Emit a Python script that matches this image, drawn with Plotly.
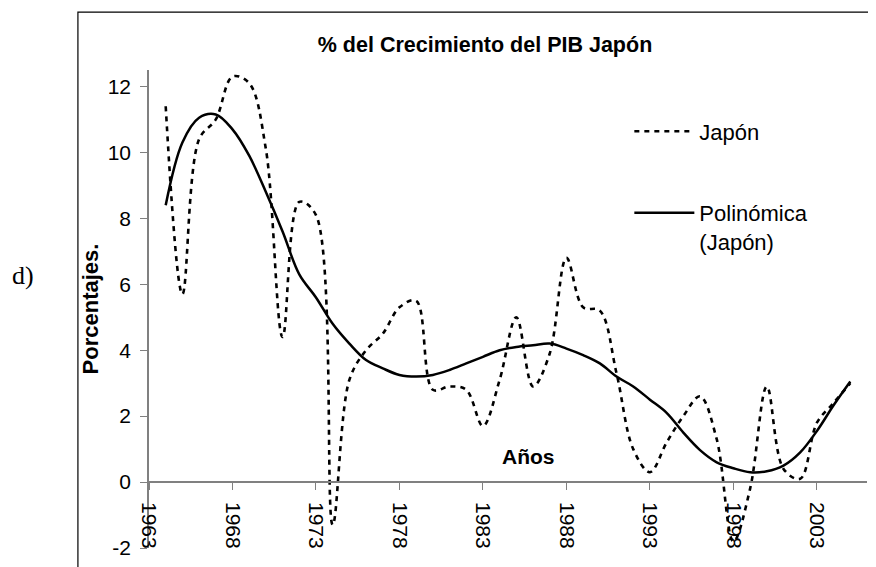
import plotly.graph_objects as go

# Years and values
years = list(range(1964, 2006))
japon = [11.4, 5.7, 10.4, 11.0, 12.3, 12.1, 10.1, 4.4, 8.5, 8.1,
         -1.3, 3.1, 4.0, 4.5, 5.3, 5.5, 2.8, 2.9, 2.8, 1.7,
         3.1, 5.0, 2.9, 3.9, 6.8, 5.3, 5.2, 3.3, 1.0, 0.3,
         1.2, 2.0, 2.6, 1.3, -1.8, -0.2, 2.9, 0.4, 0.1, 1.8,
         2.4, 3.0]
polinomica = [8.4, 10.3, 11.05, 11.15, 10.7, 9.9, 8.8, 7.6, 6.3, 5.6,
              4.8, 4.2, 3.7, 3.45, 3.25, 3.2, 3.25, 3.4, 3.6, 3.8,
              4.0, 4.1, 4.15, 4.2, 4.05, 3.85, 3.6, 3.2, 2.9, 2.5,
              2.1, 1.5, 0.97, 0.6, 0.42, 0.3, 0.33, 0.5, 0.9, 1.55,
              2.33, 3.05]
x_ticks = [1963, 1968, 1973, 1978, 1983, 1988, 1993, 1998, 2003]
y_ticks = [-2, 0, 2, 4, 6, 8, 10, 12]
y_tick_text = ["-2", "0", "2", "4", "6", "8", "10", "12"]

Y_MIN, Y_MAX = -2, 12.5
FONT = "Liberation Sans, Arial, sans-serif"
AXIS_GREY = "#808080"

fig = go.Figure()

fig.add_trace(go.Scatter(
    x=years, y=japon, name="Japón", mode="lines",
    line=dict(color="black", width=2.6, dash="5px,5px", shape="spline", smoothing=1),
    legendgroup="a",
))
fig.add_trace(go.Scatter(
    x=years, y=polinomica, name="Polinómica<br>(Japón)", mode="lines",
    line=dict(color="black", width=2.5, shape="spline", smoothing=1),
    legendgroup="b",
))

# outer frame of the chart object
fig.add_shape(type="rect", xref="paper", yref="paper",
              x0=-0.099, x1=1.05, y0=-0.1, y1=1.121,
              line=dict(color="black", width=1.2), layer="below")

fig.add_annotation(text="<b>Años</b>", xref="paper", yref="paper",
                   x=0.529, y=0.192, xanchor="center", yanchor="middle",
                   showarrow=False,
                   font=dict(size=21, color="black", family=FONT))
fig.add_annotation(text="d)", xref="paper", yref="paper",
                   x=-0.175, y=0.571, xanchor="center", yanchor="middle",
                   showarrow=False,
                   font=dict(size=26, color="black", family="Liberation Serif, Times New Roman, serif"))

# page body has an 8px margin, so the figure is 8px smaller than the window
fig.update_layout(
    width=868, height=559,
    paper_bgcolor="white", plot_bgcolor="white",
    font=dict(family=FONT, size=21, color="black"),
    margin=dict(l=141, r=9, t=62, b=19),
    title=dict(text="<b>% del Crecimiento del PIB Japón</b>",
               x=0.468, xref="paper", xanchor="center",
               y=1 - 36 / 559, yref="container", yanchor="middle",
               font=dict(size=21.5, family=FONT, color="black")),
    xaxis=dict(range=[1963, 2006], tickvals=x_ticks, tickangle=90,
               anchor="free", position=(0 - Y_MIN) / (Y_MAX - Y_MIN),
               showline=True, linecolor=AXIS_GREY, linewidth=1.5,
               ticks="outside", ticklen=7, tickcolor=AXIS_GREY,
               ticklabelstandoff=8,
               showgrid=False, zeroline=False,
               tickfont=dict(size=21, family=FONT)),
    yaxis=dict(range=[Y_MIN, Y_MAX], tickvals=y_ticks, ticktext=y_tick_text,
               showline=True, linecolor=AXIS_GREY, linewidth=1.5,
               ticks="outside", ticklen=7, tickcolor=AXIS_GREY,
               ticklabelstandoff=5,
               showgrid=False, zeroline=False,
               tickfont=dict(size=21, family=FONT),
               title=dict(text="<b>Porcentajes.</b>", standoff=3,
                          font=dict(size=22, family=FONT))),
    legend=dict(x=0.669, y=0.9155, xanchor="left", yanchor="top",
                bgcolor="rgba(0,0,0,0)", tracegroupgap=50, valign="top",
                itemwidth=60, font=dict(size=22, family=FONT)),
)

fig.write_html("out.html")
